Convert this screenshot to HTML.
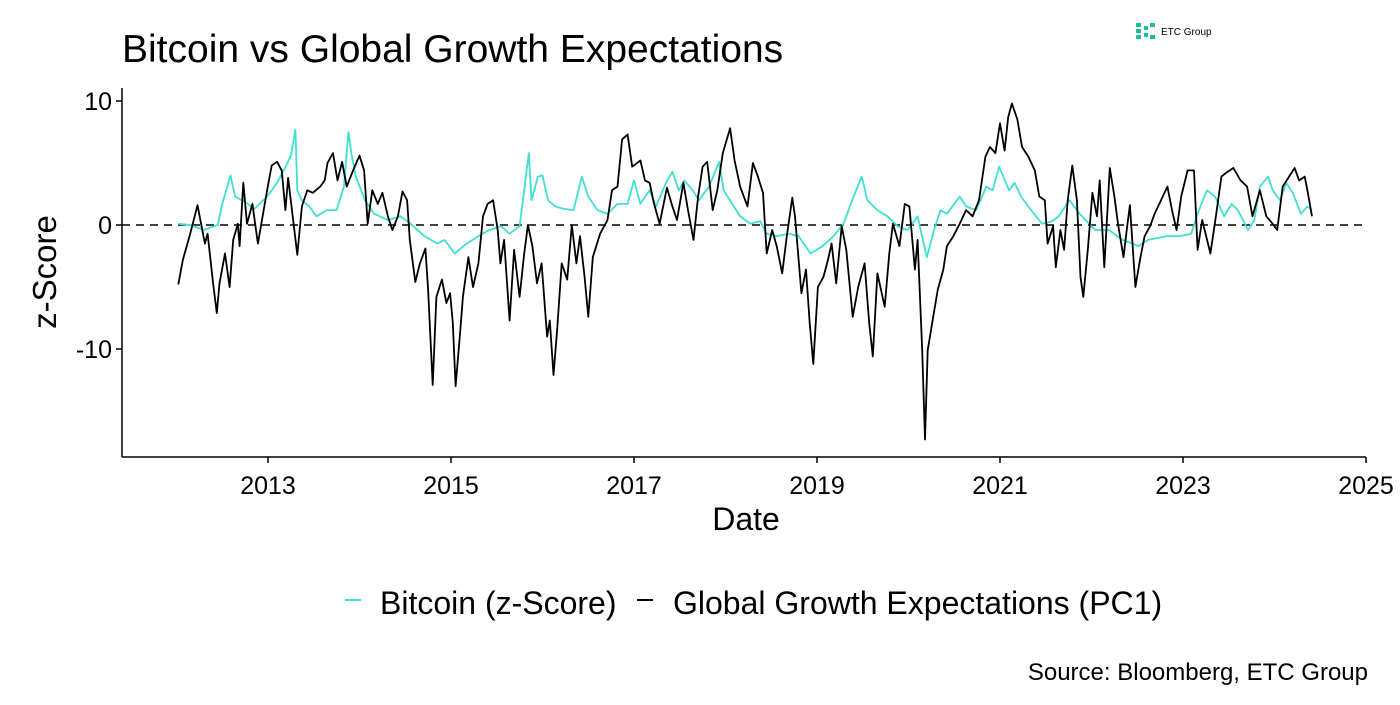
<!DOCTYPE html>
<html><head><meta charset="utf-8"><style>
body{margin:0;background:#fff;width:1400px;height:700px;overflow:hidden;font-family:"Liberation Sans",Arial,sans-serif}
svg text{font-family:"Liberation Sans",Arial,sans-serif}
</style></head><body>
<svg id="chart" width="1400" height="700" xmlns="http://www.w3.org/2000/svg">
<text x="122" y="62" font-size="39" fill="#000">Bitcoin vs Global Growth Expectations</text>
<g>
<rect x="1136" y="23" width="5" height="4" fill="#1fbf8f"/><rect x="1136" y="29" width="5" height="4" fill="#1fbf8f"/><rect x="1136" y="35" width="5" height="4" fill="#1fbf8f"/>
<rect x="1144" y="26" width="4" height="4" fill="#1fbf8f"/><rect x="1144" y="33" width="4" height="4" fill="#1fbf8f"/>
<rect x="1150" y="23" width="5" height="4" fill="#1fbf8f"/><rect x="1150" y="35" width="5" height="4" fill="#1fbf8f"/>
<text x="1161" y="35" font-size="10" fill="#000">ETC Group</text>
</g>
<g id="axes"></g>
<g id="series"></g>
<text transform="translate(56,272) rotate(-90)" text-anchor="middle" font-size="33" fill="#000">z-Score</text>
<text x="746" y="530" text-anchor="middle" font-size="32" fill="#000">Date</text>
<g>
<line x1="345" y1="600" x2="361" y2="600" stroke="#40e0d0" stroke-width="2"/>
<text x="380" y="614" font-size="32">Bitcoin (z-Score)</text>
<line x1="637" y1="600" x2="653" y2="600" stroke="#000" stroke-width="2"/>
<text x="673" y="614" font-size="32">Global Growth Expectations (PC1)</text>
</g>
<text x="1368" y="680" text-anchor="end" font-size="24">Source: Bloomberg, ETC Group</text>
</svg>
<script>
const yearTicks=[2013,2015,2017,2019,2021,2023,2025];
const valueTicks=[10,0,-10];
const growthDates=[2012.02,2012.07,2012.15,2012.23,2012.31,2012.34,2012.40,2012.44,2012.47,2012.53,2012.58,2012.62,2012.67,2012.69,2012.73,2012.77,2012.83,2012.89,2012.99,2013.04,2013.1,2013.15,2013.19,2013.22,2013.27,2013.32,2013.37,2013.43,2013.49,2013.57,2013.62,2013.65,2013.71,2013.76,2013.81,2013.86,2013.93,2014.0,2014.05,2014.09,2014.14,2014.2,2014.25,2014.31,2014.36,2014.42,2014.47,2014.52,2014.55,2014.61,2014.66,2014.72,2014.75,2014.8,2014.84,2014.9,2014.95,2014.99,2015.02,2015.05,2015.1,2015.13,2015.19,2015.24,2015.3,2015.35,2015.4,2015.46,2015.51,2015.54,2015.58,2015.64,2015.69,2015.75,2015.8,2015.84,2015.89,2015.94,2015.99,2016.05,2016.08,2016.12,2016.16,2016.21,2016.27,2016.32,2016.37,2016.41,2016.46,2016.5,2016.55,2016.63,2016.71,2016.76,2016.82,2016.87,2016.93,2016.98,2017.07,2017.12,2017.17,2017.22,2017.28,2017.36,2017.42,2017.47,2017.54,2017.59,2017.65,2017.7,2017.75,2017.8,2017.86,2017.91,2017.97,2018.05,2018.1,2018.16,2018.24,2018.3,2018.35,2018.41,2018.45,2018.51,2018.56,2018.62,2018.67,2018.73,2018.76,2018.83,2018.88,2018.92,2018.96,2019.01,2019.07,2019.12,2019.16,2019.21,2019.27,2019.32,2019.39,2019.45,2019.52,2019.57,2019.61,2019.66,2019.74,2019.79,2019.83,2019.9,2019.96,2020.01,2020.07,2020.1,2020.15,2020.18,2020.21,2020.27,2020.32,2020.38,2020.42,2020.49,2020.56,2020.63,2020.7,2020.77,2020.84,2020.89,2020.95,2021.0,2021.05,2021.09,2021.13,2021.19,2021.24,2021.31,2021.38,2021.43,2021.49,2021.52,2021.58,2021.61,2021.66,2021.7,2021.74,2021.79,2021.84,2021.88,2021.91,2021.96,2022.01,2022.06,2022.09,2022.14,2022.2,2022.25,2022.29,2022.35,2022.39,2022.42,2022.48,2022.53,2022.58,2022.64,2022.69,2022.76,2022.83,2022.88,2022.93,2022.98,2023.05,2023.12,2023.16,2023.21,2023.3,2023.36,2023.42,2023.47,2023.55,2023.63,2023.7,2023.76,2023.84,2023.91,2023.98,2024.03,2024.09,2024.16,2024.22,2024.27,2024.33,2024.36,2024.41];
const growthValues=[-4.8,-2.8,-0.7,1.6,-1.5,-0.7,-4.7,-7.1,-4.7,-2.3,-5,-1.2,0.1,-1.7,3.4,0.1,1.7,-1.5,2.8,4.8,5.1,4.4,1.2,3.8,0.7,-2.4,1.5,2.8,2.6,3.1,3.6,5,5.8,3.6,5.1,3.1,4.4,5.6,4.4,0.1,2.8,1.7,2.6,0.7,-0.4,0.7,2.7,2,-1.2,-4.6,-3.1,-1.9,-5.2,-12.9,-5.8,-4.4,-6.3,-5.5,-7.9,-13,-8.7,-5.8,-2.6,-5,-3.1,0.7,1.7,2,-0.4,-3.1,-1.2,-7.7,-2,-5.8,-2.3,0,-1.7,-4.7,-3.1,-9,-7.7,-12.1,-8.5,-3.1,-4.4,0,-3.1,-0.9,-4.2,-7.4,-2.6,-0.7,0.4,2.8,3.1,6.9,7.3,4.7,5.2,3.6,3.4,1.7,0.1,3,1.5,0.4,3.4,1.2,-1.2,2.3,4.7,5.1,1.2,2.8,5.8,7.8,5.2,3.1,1.5,5,4,2.6,-2.3,-0.4,-1.7,-3.9,-0.9,2.2,0.7,-5.5,-3.6,-7.9,-11.2,-5,-4.2,-2.8,-1.5,-4.7,-0.1,-2,-7.4,-5,-3.1,-7.9,-10.6,-3.9,-6.6,-2.3,0.1,-1.7,1.7,1.5,-3.6,-1.2,-10.1,-17.3,-10.1,-7.4,-5.2,-3.6,-1.7,-0.9,0.1,1.2,0.7,2,5.5,6.3,5.8,8.2,6,8.7,9.8,8.5,6.3,5.5,4.4,2.3,2,-1.5,-0.1,-3.4,-0.4,-2,2,4.8,2,-4.2,-5.8,-2,2.6,0.7,3.6,-3.4,4.6,2.3,0.1,-2.6,-0.1,1.6,-5,-2.8,-0.9,-0.1,0.9,2,3.1,1.2,-0.4,2.3,4.4,4.4,-2,0.4,-2.3,0.7,3.9,4.2,4.6,3.6,3.1,0.7,2.8,0.7,0.1,-0.4,3.1,3.9,4.6,3.6,3.9,2.8,0.7];
const btcDates=[2012.02,2012.15,2012.3,2012.45,2012.5,2012.59,2012.64,2012.78,2012.85,2012.99,2013.1,2013.2,2013.25,2013.3,2013.32,2013.37,2013.45,2013.53,2013.64,2013.75,2013.83,2013.88,2013.91,2013.96,2014.06,2014.16,2014.31,2014.45,2014.56,2014.71,2014.85,2014.93,2015.04,2015.17,2015.3,2015.42,2015.55,2015.64,2015.75,2015.8,2015.85,2015.88,2015.95,2016.0,2016.06,2016.14,2016.23,2016.34,2016.43,2016.5,2016.6,2016.71,2016.82,2016.93,2017.0,2017.07,2017.17,2017.24,2017.35,2017.42,2017.49,2017.55,2017.64,2017.71,2017.82,2017.93,2017.98,2018.09,2018.16,2018.27,2018.38,2018.45,2018.56,2018.69,2018.8,2018.93,2019.06,2019.18,2019.29,2019.4,2019.49,2019.55,2019.66,2019.77,2019.88,2019.99,2020.1,2020.2,2020.28,2020.35,2020.42,2020.56,2020.63,2020.74,2020.85,2020.92,2020.99,2021.1,2021.16,2021.23,2021.34,2021.46,2021.57,2021.64,2021.76,2021.87,2022.04,2022.19,2022.34,2022.45,2022.51,2022.62,2022.82,2022.96,2023.09,2023.16,2023.26,2023.35,2023.45,2023.53,2023.6,2023.71,2023.78,2023.84,2023.93,2023.98,2024.06,2024.13,2024.2,2024.29,2024.36,2024.41];
const btcValues=[0.1,0,-0.4,0,1.7,4,2.3,1.7,1.3,2.3,3.4,4.8,5.6,7.7,2.8,2,1.5,0.7,1.2,1.2,3.1,7.5,5.8,3.9,2,0.9,0.4,0.7,0.1,-0.9,-1.5,-1.2,-2.3,-1.5,-0.9,-0.4,-0.1,-0.7,-0.1,2.8,5.8,2,3.9,4,2,1.5,1.3,1.2,3.9,2.3,1.2,0.9,1.7,1.7,3.6,1.7,2.8,1.5,3.4,4.3,2.8,3.6,2.8,2,3.1,5.1,2.8,1.5,0.7,0.1,0.3,-0.7,-0.9,-0.7,-0.9,-2.3,-1.7,-0.9,0.1,2.3,3.9,2,1.2,0.7,-0.1,-0.4,0.7,-2.6,-0.4,1.2,0.9,2.3,1.5,1.2,3.1,2.8,4.7,2.8,3.4,2.3,1.2,0.1,0.3,0.7,2,0.9,-0.4,-0.4,-1.2,-1.5,-1.7,-1.2,-0.9,-0.9,-0.7,0.9,2.8,2.3,0.7,1.7,1.2,-0.4,0.4,3.1,3.9,2.8,2,3.4,2.6,0.9,1.5,1.2];

const NS='http://www.w3.org/2000/svg';
const X0=122,X1=1366,Y0=88,Y1=457;
function xs(yr){return 268+(yr-2013)*91.5;}
function ys(v){return 225-v*12.4;}
const axes=document.getElementById('axes');
const series=document.getElementById('series');
function mk(tag,attrs,parent){const e=document.createElementNS(NS,tag);for(const k in attrs)e.setAttribute(k,attrs[k]);parent.appendChild(e);return e;}

let yl=mk('line',{x1:X0,y1:Y0,x2:X0,y2:Y1,stroke:'#000','stroke-width':1.5},axes);


let xl=mk('line',{x1:X0,y1:Y1,x2:X1,y2:Y1,stroke:'#000','stroke-width':1.5},axes);


yearTicks.forEach(t=>{
  const tk=mk('line',{x1:xs(t),y1:Y1,x2:xs(t),y2:Y1+6,stroke:'#000','stroke-width':1.5},axes);
  
  
  const lb=mk('text',{x:xs(t),y:Y1+37,'text-anchor':'middle','font-size':25,fill:'#000'},axes);
  lb.textContent=t;
  
  
});
valueTicks.forEach(t=>{
  const tk=mk('line',{x1:X0-6,y1:ys(t),x2:X0,y2:ys(t),stroke:'#000','stroke-width':1.5},axes);
  
  
  const lb=mk('text',{x:X0-10,y:ys(t)+9,'text-anchor':'end','font-size':25,fill:'#000'},axes);
  lb.textContent=t;
  
  
});
const zl=mk('line',{x1:X0,y1:ys(0),x2:X1,y2:ys(0),stroke:'#000','stroke-width':1.5,'stroke-dasharray':'8,6'},series);


function pathOf(d,v){return d.map((t,i)=>(i?'L':'M')+xs(t).toFixed(1)+','+ys(v[i]).toFixed(1)).join('');}
const bp=mk('path',{d:pathOf(btcDates,btcValues),fill:'none',stroke:'#40e0d0','stroke-width':1.8,'stroke-linejoin':'round'},series);


const gp=mk('path',{d:pathOf(growthDates,growthValues),fill:'none',stroke:'#000','stroke-width':1.8,'stroke-linejoin':'round'},series);


</script>
</body></html>
